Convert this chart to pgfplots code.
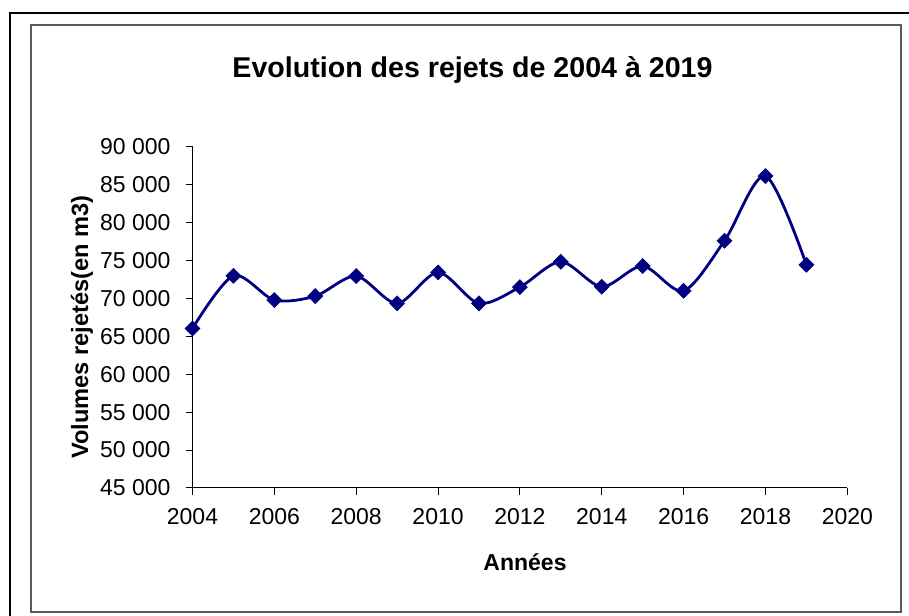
\documentclass[border=0pt]{standalone}
\usepackage{fontspec}
\setmainfont{Liberation Sans}
\usepackage{pgfplots}
\pgfplotsset{compat=1.18}
\definecolor{navyline}{RGB}{0,0,128}
\definecolor{framegray}{RGB}{90,90,90}

\begin{document}
\begin{tikzpicture}[x=0.5pt,y=0.5pt]
  \useasboundingbox (0,0) rectangle (909,615);
  \clip (0,0) rectangle (909,615);
  \fill[white] (0,0) rectangle (909,615);
  % outer and inner frames
  \draw[black, line width=1pt] (10,-5) -- (10,602) -- (915,602);
  \draw[framegray, line width=0.6pt] (31,3) rectangle (901,590);
  \coordinate (o) at (192.5,127);
  \node[anchor=base, font=\bfseries\fontsize{14.3}{16}\selectfont] at (472.5,537)
    {Evolution des rejets de 2004 à 2019};
  \node[anchor=base, font=\bfseries\fontsize{11.5}{13}\selectfont] at (525,45) {Années};
  \node[anchor=base, rotate=90, font=\bfseries\fontsize{11.8}{13}\selectfont] at (88,288)
    {Volumes rejetés(en m3)};
  \begin{axis}[
      at={(o)}, anchor=south west,
      scale only axis, width=327.4pt, height=170.65pt,
      xmin=2004, xmax=2020, ymin=45000, ymax=90000,
      xtick={2004,2006,...,2020},
      ytick={45000,50000,...,90000},
      axis x line*=bottom, axis y line*=left,
      axis line style={black, line width=0.5pt},
      tick align=outside, major tick length=3.5pt,
      tick style={black, line width=0.5pt},
      scaled y ticks=false,
      /pgf/number format/assume math mode=true,
      ticklabel style={font=\fontsize{11.5}{13}\selectfont},
      xticklabel style={/pgf/number format/1000 sep={}, yshift=-3pt},
      yticklabel style={/pgf/number format/1000 sep={\ }, xshift=-4pt},
      clip=false,
    ]
    \addplot[navyline, line width=1.4pt, smooth, tension=0.5,
      mark=square*, mark size=2.6pt,
      mark options={rotate=45, fill=navyline, solid, line width=0.4pt}]
      coordinates {
        (2004,66040) (2005,72980) (2006,69780) (2007,70300)
        (2008,72940) (2009,69340) (2010,73430) (2011,69340)
        (2012,71490) (2013,74830) (2014,71530) (2015,74260)
        (2016,71000) (2017,77600) (2018,86130) (2019,74430)
      };
  \end{axis}
\end{tikzpicture}
\end{document}
